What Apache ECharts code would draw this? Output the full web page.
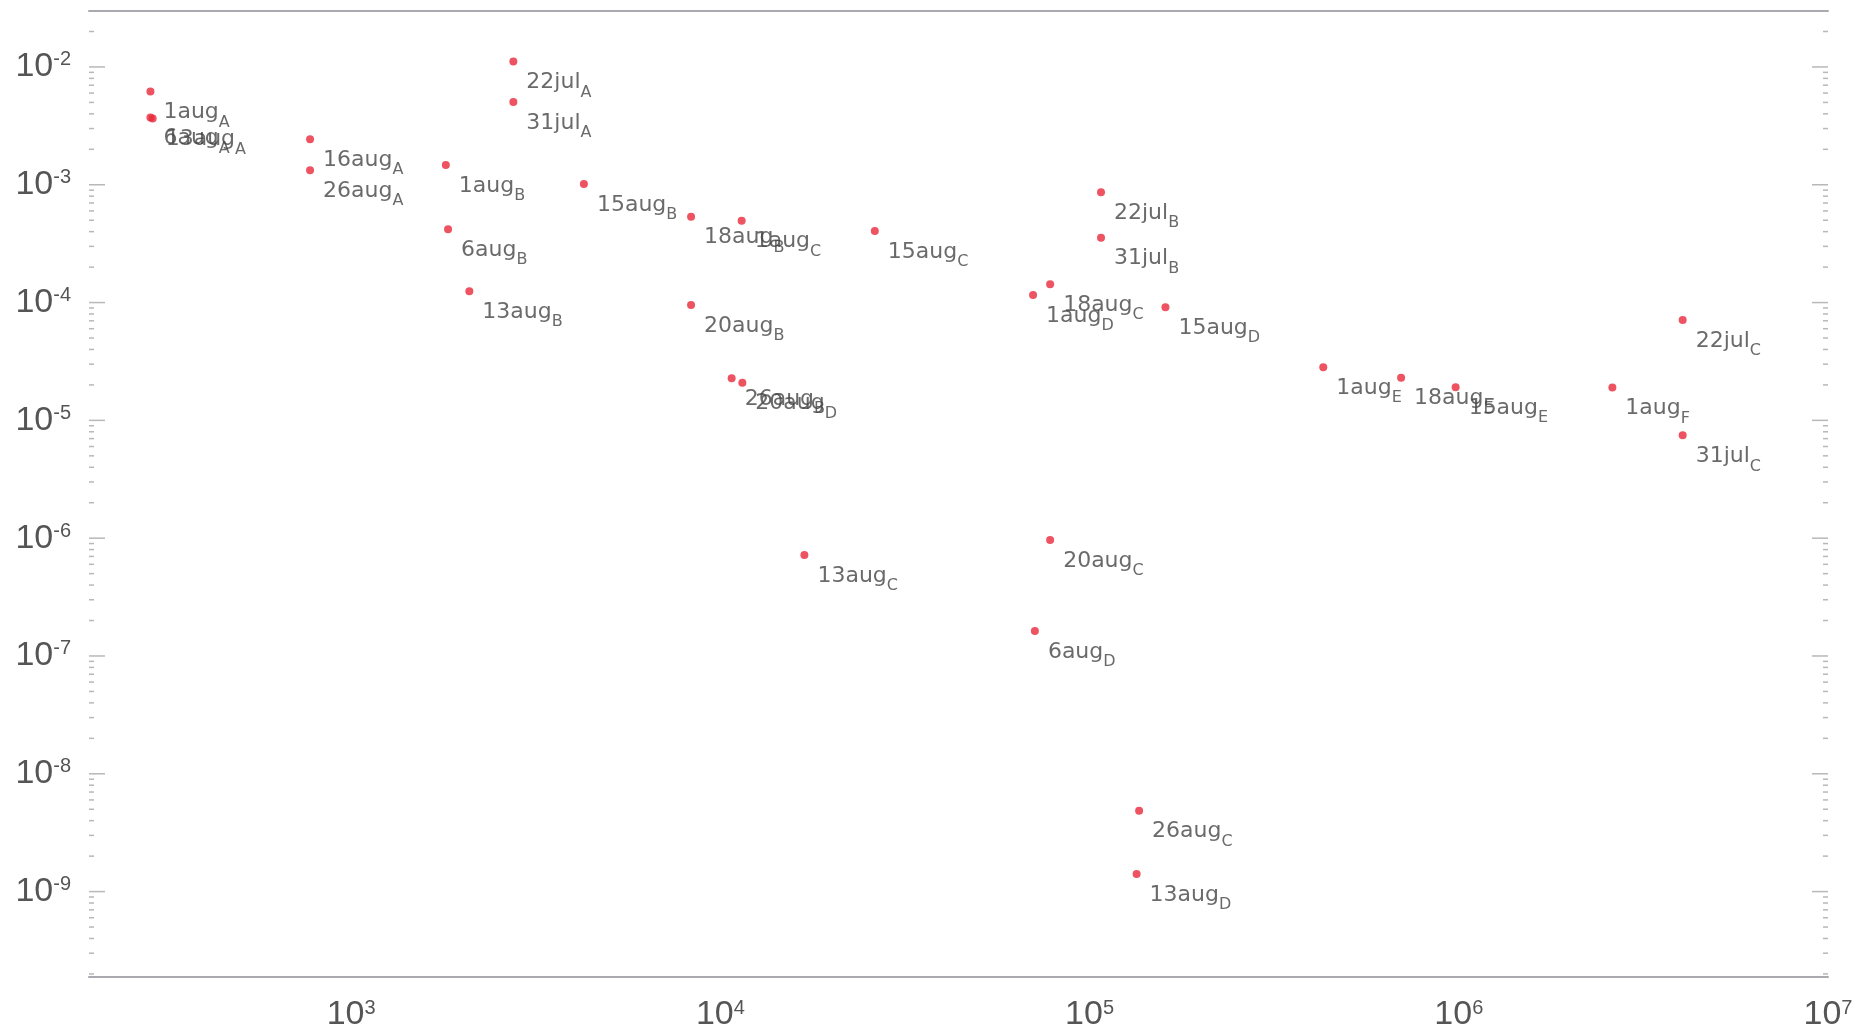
<!DOCTYPE html>
<html>
<head>
<meta charset="utf-8">
<script src="https://cdn.jsdelivr.net/npm/echarts@6/dist/echarts.min.js"></script>
<style>
  html, body { margin: 0; padding: 0; background: #ffffff; }
  #chart { width: 1859px; height: 1029px; }
</style>
</head>
<body>
<div id="chart"></div>
<script>
// Observation labels: date and sub-region letter
const DATES  = ['1aug','6aug','13aug','16aug','26aug','22jul','31jul',
                '1aug','6aug','13aug','15aug','18aug','20aug','26aug','20aug',
                '1aug','15aug','13aug',
                '22jul','31jul','1aug','18aug','15aug','20aug','6aug','26aug','13aug',
                '1aug','18aug','15aug','1aug','22jul','31jul'];
const GROUPS = ['A','A','A','A','A','A','A',
                'B','B','B','B','B','B','B','D',
                'C','C','C',
                'B','B','D','C','D','C','D','C','D',
                'E','E','E','F','C','C'];
const X_VALUES = [286, 286, 290, 774, 774, 2750, 2750,
                  1805, 1830, 2090, 4270, 8330, 8330, 10730, 11470,
                  11420, 26200, 16890,
                  107400, 107400, 70300, 78200, 160500, 78200, 71100, 136200, 134100,
                  429500, 697800, 980500, 2606000, 4040000, 4040000];
const Y_VALUES = [6.2e-3, 3.73e-3, 3.65e-3, 2.43e-3, 1.33e-3, 1.11e-2, 5.04e-3,
                  1.47e-3, 4.19e-4, 1.25e-4, 1.015e-3, 5.36e-4, 9.53e-5, 2.28e-5, 2.09e-5,
                  4.95e-4, 4.05e-4, 7.2e-7,
                  8.63e-4, 3.55e-4, 1.16e-4, 1.43e-4, 9.12e-5, 9.65e-7, 1.63e-7, 4.86e-9, 1.41e-9,
                  2.82e-5, 2.30e-5, 1.91e-5, 1.90e-5, 7.11e-5, 7.46e-6];

// Axis ranges and labelled decades
const X_MIN = Math.pow(10, 2.29), X_MAX = 1e7;
const Y_MIN = Math.pow(10, -9.725), Y_MAX = Math.pow(10, -1.525);
const X_TICK_EXPONENTS = [3, 4, 5, 6, 7];
const Y_TICK_EXPONENTS = [-9, -8, -7, -6, -5, -4, -3, -2];
const MINOR_STEPS = [2, 3, 4, 5, 6, 7, 8, 9];

// Tick marks on the left and right frame edges (majors at decades, minors between)
const yTicks = [];
for (let e = Y_TICK_EXPONENTS[0] - 1; e <= Y_TICK_EXPONENTS[Y_TICK_EXPONENTS.length - 1]; e++) {
  const base = Math.pow(10, e);
  if (base >= Y_MIN && base <= Y_MAX) yTicks.push([X_MIN, base, 1]);
  MINOR_STEPS.forEach(function (m) {
    const v = m * base;
    if (v >= Y_MIN && v <= Y_MAX) yTicks.push([X_MIN, v, 0]);
  });
}

function powerLabel(exponents) {
  return function (value) {
    const e = Math.log10(value);
    const r = Math.round(e);
    if (Math.abs(e - r) > 1e-6 || exponents.indexOf(r) < 0) return '';
    return '{base|10}{sup|' + r + '}';
  };
}

const labelRich = {
  base: { fontFamily: 'Liberation Sans', fontSize: 34, lineHeight: 34, color: '#555555',
          padding: [10, 0, 0, 0], verticalAlign: 'bottom' },
  sup:  { fontFamily: 'Liberation Sans', fontSize: 20, lineHeight: 20, color: '#555555',
          verticalAlign: 'top' }
};

const chart = echarts.init(document.getElementById('chart'), null, { renderer: 'canvas' });

chart.setOption({
  animation: false,
  backgroundColor: '#ffffff',
  grid: { left: 89, right: 31, top: 11, bottom: 52, containLabel: false, outerBoundsMode: 'none' },
  xAxis: [
    {
      type: 'log', logBase: 10, min: X_MIN, max: X_MAX, position: 'bottom',
      axisLine: { show: true, lineStyle: { color: '#a9a9b0', width: 2 } },
      axisTick: { show: false },
      splitLine: { show: false },
      axisLabel: { margin: 21, formatter: powerLabel(X_TICK_EXPONENTS), rich: labelRich }
    },
    {
      type: 'log', logBase: 10, min: X_MIN, max: X_MAX, position: 'top',
      axisLine: { show: true, lineStyle: { color: '#a9a9b0', width: 2 } },
      axisTick: { show: false },
      splitLine: { show: false },
      axisLabel: { show: false }
    }
  ],
  yAxis: {
    type: 'log', logBase: 10, min: Y_MIN, max: Y_MAX,
    axisLine: { show: false },
    axisTick: { show: false },
    splitLine: { show: false },
    axisLabel: { margin: 18, formatter: powerLabel(Y_TICK_EXPONENTS), rich: labelRich }
  },
  series: [
    {
      type: 'custom',
      clip: false,
      silent: true,
      data: yTicks,
      renderItem: function (params, api) {
        const v = api.value(1);
        const len = api.value(2) ? 16 : 5;
        const l = api.coord([X_MIN, v]);
        const r = api.coord([X_MAX, v]);
        const style = { stroke: '#b8b8b8', lineWidth: 1.5 };
        return {
          type: 'group',
          children: [
            { type: 'line', shape: { x1: l[0], y1: l[1], x2: l[0] + len, y2: l[1] }, style: style },
            { type: 'line', shape: { x1: r[0] - len, y1: r[1], x2: r[0], y2: r[1] }, style: style }
          ]
        };
      }
    },
    {
      type: 'scatter',
      symbol: 'circle',
      symbolSize: 8,
      itemStyle: { color: '#e8283a' },
      data: X_VALUES.map(function (x, i) { return [x, Y_VALUES[i]]; }),
      label: {
        show: true,
        position: [17, 14],
        align: 'left',
        verticalAlign: 'top',
        formatter: function (p) {
          return '{m|' + DATES[p.dataIndex] + '}{s|' + GROUPS[p.dataIndex] + '}';
        },
        rich: {
          m: { fontFamily: 'DejaVu Sans', fontSize: 22, lineHeight: 22, color: '#454545',
               verticalAlign: 'top' },
          s: { fontFamily: 'DejaVu Sans', fontSize: 16, lineHeight: 16, color: '#454545',
               padding: [13, 0, 0, 0], verticalAlign: 'top' }
        }
      }
    }
  ]
});
</script>
</body>
</html>
